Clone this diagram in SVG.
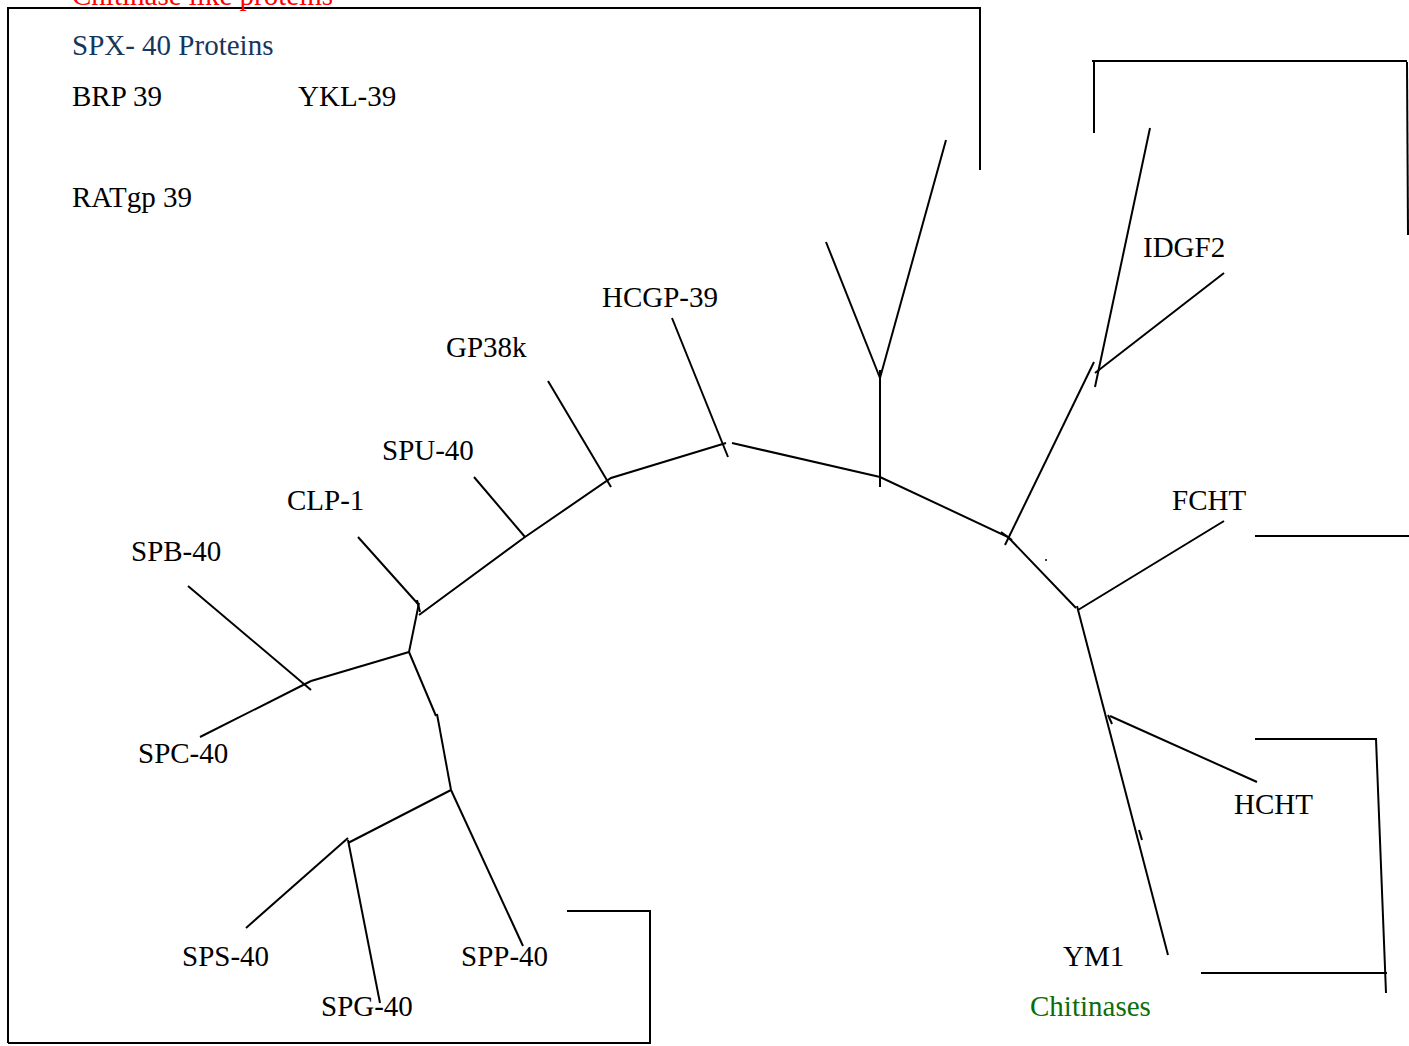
<svg xmlns="http://www.w3.org/2000/svg" width="1409" height="1046" viewBox="0 0 1409 1046">
<style>
text{font-family:"Liberation Serif","Times New Roman",serif;font-size:29px;fill:#000}
.t{fill:#17365d}
.r{fill:#ff0000}
.g{fill:#0b6e0b}
line,polyline{stroke:#000;stroke-width:2;fill:none}
</style>
<rect width="1409" height="1046" fill="#fff"/>
<g id="frames">
<polyline points="8,1043 8,8 980,8 980,170"/>
<polyline points="8,1043 650,1043 650,911 567,911"/>
<polyline points="1094,133 1094,62"/>
<polyline points="1092,61 1407,61"/>
<polyline points="1407,62 1408,235"/>
<line x1="1255" y1="536" x2="1409" y2="536"/>
<polyline points="1255,739 1376,739 1386,993"/>
<line x1="1201" y1="973" x2="1387" y2="973"/>
</g>
<g id="labels">
<text class="r" x="72" y="5">Chitinase like proteins</text>
<text class="t" x="72" y="55">SPX- 40 Proteins</text>
<text x="72" y="106">BRP 39</text>
<text x="298" y="106">YKL-39</text>
<text x="72" y="207">RATgp 39</text>
<text class="g" x="1030" y="1016">Chitinases</text>
</g>
<g id="connectors">
<polyline points="419,615 525,537 611,478 726,443"/>
<polyline points="732,443 880,477 1008,537 1076,608"/>
<line x1="419" y1="603" x2="409" y2="652"/>
<line x1="417" y1="600" x2="420" y2="612"/>
<polyline points="409,652 311,681"/>
<polyline points="409,652 436,716"/>
<line x1="437" y1="714" x2="451" y2="790"/>
<line x1="451" y1="790" x2="348" y2="843"/>
<line x1="880" y1="370" x2="880" y2="487"/>
<line x1="1005" y1="545" x2="1094" y2="362"/>
<line x1="1001" y1="532" x2="1012" y2="540"/>
<line x1="1077" y1="606" x2="1168" y2="955"/>
<line x1="1108" y1="715" x2="1112" y2="724"/>
<line x1="1139" y1="830" x2="1142" y2="840"/>
<circle cx="1046" cy="560" r="1" fill="#000"/>
</g>
<g id="node-HCGP-39"><text x="602" y="307">HCGP-39</text><line x1="672" y1="318" x2="728" y2="457"/></g>
<g id="node-GP38k"><text x="446" y="357">GP38k</text><line x1="548" y1="381" x2="611" y2="487"/></g>
<g id="node-SPU-40"><text x="382" y="460">SPU-40</text><line x1="474" y1="477" x2="525" y2="537"/></g>
<g id="node-CLP-1"><text x="287" y="510">CLP-1</text><line x1="358" y1="537" x2="418" y2="604"/></g>
<g id="node-SPB-40"><text x="131" y="561">SPB-40</text><line x1="188" y1="586" x2="311" y2="690"/></g>
<g id="node-SPC-40"><text x="138" y="763">SPC-40</text><line x1="200" y1="737" x2="311" y2="681"/></g>
<g id="node-SPS-40"><text x="182" y="966">SPS-40</text><line x1="246" y1="928" x2="348" y2="838"/></g>
<g id="node-SPG-40"><line x1="348" y1="840" x2="380" y2="1003"/><text x="321" y="1016">SPG-40</text></g>
<g id="node-SPP-40"><text x="461" y="966">SPP-40</text><line x1="451" y1="790" x2="523" y2="946"/></g>
<g id="node-V"><line x1="880" y1="378" x2="826" y2="242"/><line x1="880" y1="378" x2="946" y2="140"/></g>
<g id="node-IDGF2"><text x="1143" y="257">IDGF2</text><line x1="1150" y1="128" x2="1095" y2="387"/><line x1="1095" y1="373" x2="1224" y2="273"/></g>
<g id="node-FCHT"><text x="1172" y="510">FCHT</text><line x1="1078" y1="610" x2="1224" y2="521"/></g>
<g id="node-HCHT"><text x="1234" y="814">HCHT</text><line x1="1110" y1="716" x2="1257" y2="782"/></g>
<g id="node-YM1"><text x="1063" y="966">YM1</text></g>
</svg>
